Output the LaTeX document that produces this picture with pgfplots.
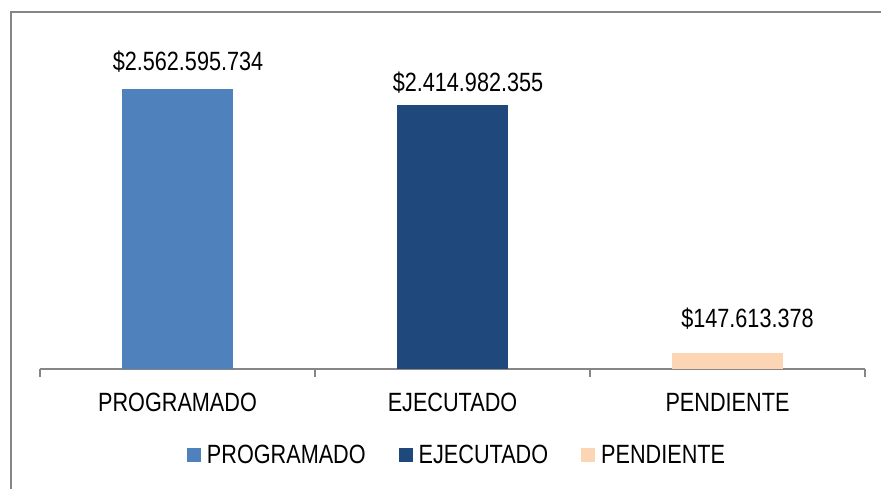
\documentclass[border=0pt]{standalone}
\usepackage{pgfplots}
\pgfplotsset{compat=1.18}
\usepackage{fontspec}
\setmainfont[FakeStretch=0.82]{Liberation Sans}
\definecolor{cprog}{HTML}{4F81BD}
\definecolor{cejec}{HTML}{1F497D}
\definecolor{cpend}{HTML}{FCD5B5}
\definecolor{axgray}{HTML}{868686}
\newcommand{\bigf}{\fontsize{26.4pt}{30pt}\selectfont}
\begin{document}
\begin{tikzpicture}[x=1pt,y=1pt]
\path[use as bounding box] (0,0) rectangle (881,489);
\draw[axgray, line width=1.5pt] (11,-5) -- (11,477) -- (890,477);
\begin{axis}[
  at={(40pt,120pt)}, anchor=south west,
  scale only axis, width=825pt, height=327.8pt,
  xmin=-0.5, xmax=2.5, ymin=0, ymax=3e9,
  axis x line*=bottom, axis y line=none,
  x axis line style={axgray, line width=1.2pt, -},
  xtick={0,1,2}, xticklabels={PROGRAMADO,EJECUTADO,PENDIENTE},
  major tick length=0pt,
  minor xtick={-0.5,0.5,1.5,2.5}, minor tick length=8pt, tick align=outside,
  every minor tick/.append style={axgray, line width=1.2pt},
  xticklabel style={anchor=base, yshift=-43pt, font=\bigf, inner sep=0pt},
  ytick=\empty,
  ybar, bar width=111pt, bar shift=0pt,
  nodes near coords, point meta=explicit symbolic,
  every node near coord/.append style={anchor=base, inner sep=0pt, black, font=\bigf},
  clip=false,
  legend columns=3,
  legend style={draw=none, font=\bigf, at={(0.5055,-0.2624)}, anchor=center,
    /tikz/every odd column/.append style={column sep=4pt},
    /tikz/every even column/.append style={column sep=31pt}},
  every axis plot/.append style={legend image code/.code={\fill[##1] (0pt,-7pt) rectangle (14pt,7pt);}},
]
\addplot[fill=cprog, draw=none, every node near coord/.append style={xshift=10.5pt, yshift=18.5pt}]
  coordinates {(0,2562595734) [\$2.562.595.734]};
\addlegendentry{PROGRAMADO}
\addplot[fill=cejec, draw=none, every node near coord/.append style={xshift=15.5pt, yshift=13.6pt}]
  coordinates {(1,2414982355) [\$2.414.982.355]};
\addlegendentry{EJECUTADO}
\addplot[fill=cpend, draw=none, every node near coord/.append style={xshift=20pt, yshift=24.9pt}]
  coordinates {(2,147613378) [\$147.613.378]};
\addlegendentry{PENDIENTE}
\end{axis}
\end{tikzpicture}
\end{document}
